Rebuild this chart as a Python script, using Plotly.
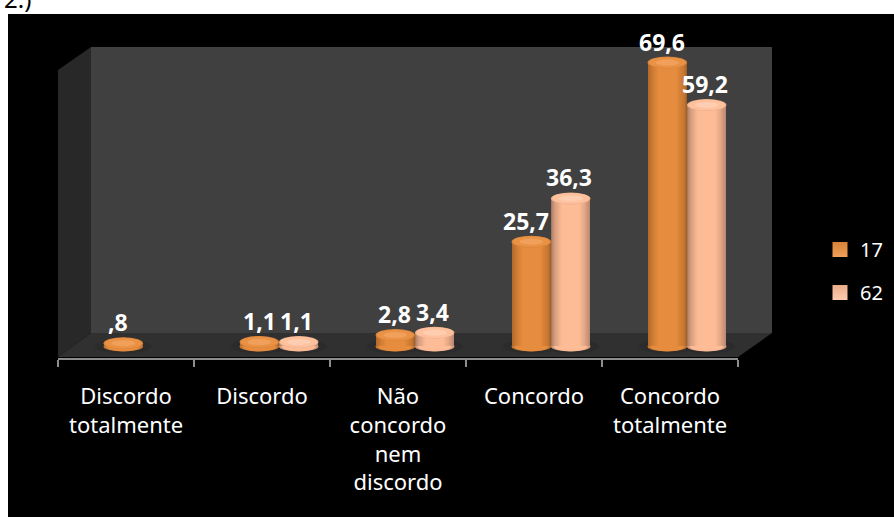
import plotly.graph_objects as go

categories = ["Discordo<br>totalmente", "Discordo", "Não<br>concordo<br>nem<br>discordo", "Concordo", "Concordo<br>totalmente"]
series_17 = [0.8, 1.1, 2.8, 25.7, 69.6]
series_62 = [None, 1.1, 3.4, 36.3, 59.2]
labels_17 = [",8", "1,1", "2,8", "25,7", "69,6"]
labels_62 = [None, "1,1", "3,4", "36,3", "59,2"]
series_names = ["17", "62"]

W, H = 894, 517
BAR_W = 0.29
FONT = "Noto Sans"


def px(x):
    return x / W


def py(y):
    return 1 - y / H


def mix(a, b, t):
    return "rgb(%d,%d,%d)" % tuple(round(a[i] + (b[i] - a[i]) * t) for i in range(3))


ORANGE = ((165, 95, 35), (230, 140, 62), (240, 160, 90))
PEACH = ((165, 120, 98), (254, 188, 150), (255, 205, 175))

fig = go.Figure()


def poly(points, color):
    path = "M " + " L ".join(f"{px(a)},{py(b)}" for a, b in points) + " Z"
    fig.add_shape(type="path", path=path, xref="paper", yref="paper",
                  fillcolor=color, line_width=0, layer="below")


poly([(8, 14), (894, 14), (894, 517), (8, 517)], "#000000")
poly([(91, 47), (772, 47), (772, 333), (91, 333)], "#404040")
poly([(58, 70), (91, 47), (91, 333), (58, 357)], "#282828")
poly([(58, 357), (91, 333), (772, 333), (738, 357)], "#303030")

# invisible trace that gives the tick-label axis its categories
fig.add_trace(go.Scatter(x=categories, y=[0] * 5, xaxis="x", yaxis="y", mode="markers",
                         marker=dict(opacity=0), showlegend=False, hoverinfo="skip"))

LAYERS = 14


def ellipse(xc, y, half_w, half_h, color, layer):
    fig.add_shape(type="circle", xref="x2", yref="y", ysizemode="pixel", yanchor=y,
                  x0=xc - half_w, x1=xc + half_w, y0=-half_h, y1=half_h,
                  fillcolor=color, line_width=0, layer=layer)


groups = ((series_17, series_names[0], ORANGE, -BAR_W / 2),
          (series_62, series_names[1], PEACH, BAR_W / 2))

for values, name, cols, shift in groups:
    for i, v in enumerate(values):
        if v is not None:
            ellipse(i + shift, 0, BAR_W * 0.72, 7, "#2b2b2b", "below")

for values, name, cols, shift in groups:
    xs = [i + shift for i, v in enumerate(values) if v is not None]
    ys = [v for v in values if v is not None]
    for xc in xs:
        ellipse(xc, 0, BAR_W / 2, 5, mix(cols[0], cols[1], 0.55), "below")
        ellipse(xc, 0, BAR_W / 2 * 0.85, 4.8, mix(cols[1], cols[1], 0), "below")
    for k in range(LAYERS):
        t = k / (LAYERS - 1)
        width = BAR_W * (1 - 0.55 * t)
        color = mix(cols[0], cols[1], t ** 0.55)
        fig.add_trace(go.Bar(x=xs, y=ys, width=width, xaxis="x2", yaxis="y",
                             marker=dict(color=color, line_width=0),
                             showlegend=False, hoverinfo="skip"))
    for xc, v in zip(xs, ys):
        ellipse(xc, v, BAR_W / 2, 6, mix(cols[0], cols[1], 0.8), "above")
        ellipse(xc, v, BAR_W / 2 * 0.94, 5.4, mix(cols[1], cols[2], 0.3), "above")
        ellipse(xc, v, BAR_W / 2 * 0.6, 3, mix(cols[2], cols[2], 0), "above")
    # legend entry
    fig.add_trace(go.Scatter(x=[None], y=[None], xaxis="x2", yaxis="y", mode="markers",
                             name=name, legendgroup=name, hoverinfo="skip",
                             marker=dict(symbol="square", size=15, color=mix(cols[0], cols[1], 0.75),
                                         gradient=dict(type="vertical", color=mix(cols[2], cols[2], 0)),
                                         line=dict(width=0))))

label_font = dict(family=FONT, size=23, color="white")
shifts_17 = [-5, 0, -1, -5, -5]
for i, (a, b, ta, tb) in enumerate(zip(series_17, series_62, labels_17, labels_62)):
    fig.add_annotation(x=i - BAR_W / 2, y=a, text=f"<b>{ta}</b>", xref="x2", yref="y",
                       showarrow=False, font=label_font, xshift=shifts_17[i], yshift=21)
    if b is not None:
        fig.add_annotation(x=i + BAR_W / 2, y=b, text=f"<b>{tb}</b>", xref="x2", yref="y",
                           showarrow=False, font=label_font, xshift=-2, yshift=21)

fig.add_annotation(x=px(3), y=py(16), xref="paper", yref="paper", xanchor="left",
                   yanchor="bottom", text="2.)", showarrow=False,
                   font=dict(family=FONT, size=24, color="#000000"), borderpad=0)

PX_PER_UNIT = 4.08
BASE_Y = 346.5
Y_MIN, Y_MAX = -5, 80

fig.update_layout(
    width=W, height=H, margin=dict(l=0, r=0, t=0, b=0),
    paper_bgcolor="white", plot_bgcolor="rgba(0,0,0,0)",
    barmode="overlay", bargap=0,
    showlegend=True,
    legend=dict(x=px(820), y=py(230), xanchor="left", yanchor="top",
                bgcolor="rgba(0,0,0,0)", tracegroupgap=14, itemwidth=30,
                font=dict(family=FONT, size=20, color="white")),
    xaxis=dict(domain=[px(58), px(738)], anchor="free", position=py(359), type="category",
               categoryorder="array", categoryarray=categories, tickson="boundaries",
               range=[-0.5, 4.5],
               ticks="outside", ticklen=7, tickwidth=2, tickcolor="#8c8c8c",
               showline=True, linecolor="#8c8c8c", linewidth=2, showgrid=False,
               tickangle=0, ticklabelstandoff=18, automargin=False,
               tickfont=dict(family=FONT, size=22, color="white")),
    xaxis2=dict(overlaying="x", anchor="y", range=[-0.625, 4.375], visible=False),
    yaxis=dict(domain=[py(BASE_Y - Y_MIN * PX_PER_UNIT), py(BASE_Y - Y_MAX * PX_PER_UNIT)],
               range=[Y_MIN, Y_MAX], visible=False),
)

fig.write_html("out.html", config=dict(displayModeBar=False),
               post_script="document.body.style.margin='0';document.body.style.overflow='hidden';")
